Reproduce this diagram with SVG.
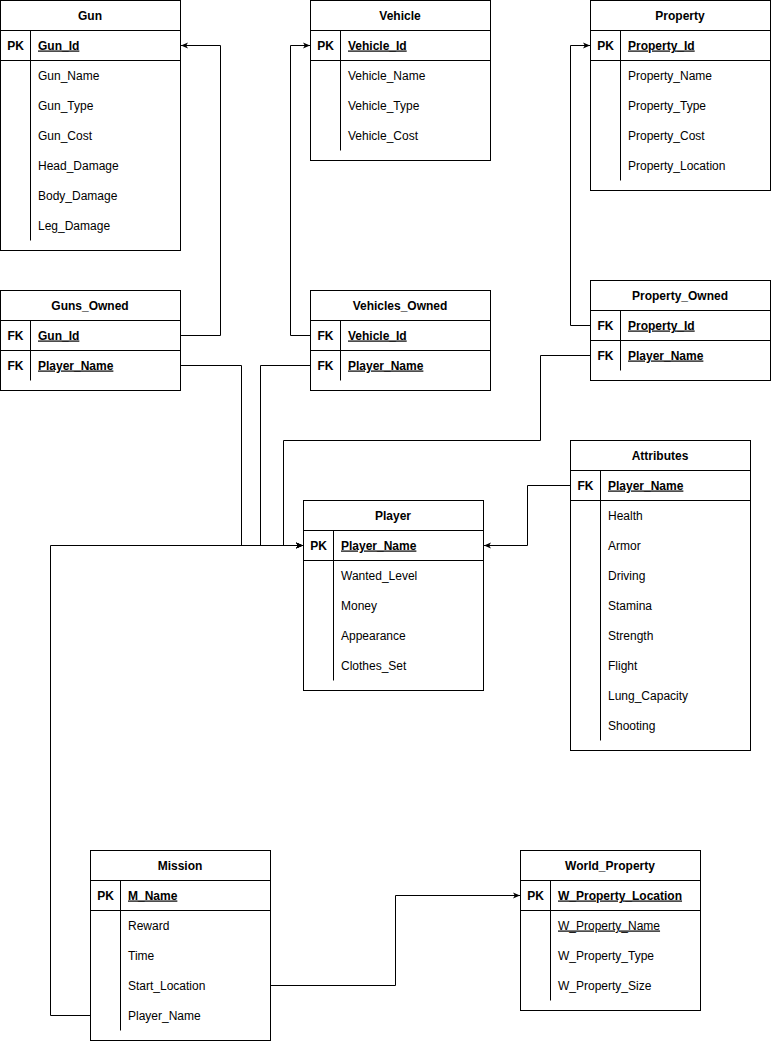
<svg xmlns="http://www.w3.org/2000/svg" width="772" height="1041" viewBox="0 0 772 1041">
<style>
.box{fill:#fff;stroke:#000;stroke-width:1}
.ln{stroke:#000;stroke-width:1;fill:none}
.h{font-family:"Liberation Sans",Arial,sans-serif;font-size:12px;font-weight:bold;text-anchor:middle}
.k{font-family:"Liberation Sans",Arial,sans-serif;font-size:12px;font-weight:bold;text-anchor:middle}
.f{font-family:"Liberation Sans",Arial,sans-serif;font-size:12px}
.pk{font-family:"Liberation Sans",Arial,sans-serif;font-size:12px;font-weight:bold;text-decoration:underline}
.u{text-decoration:underline}
.c{stroke:#000;stroke-width:1;fill:none;marker-end:url(#arr)}
</style>
<defs>
<marker id="arr" viewBox="0 0 10 10" refX="9" refY="5" markerWidth="8" markerHeight="8" markerUnits="userSpaceOnUse" orient="auto">
<path d="M0,1 L9,5 L0,9 L2.5,5 Z" fill="#000"/>
</marker>
</defs>
<rect width="772" height="1041" fill="#fff"/>

<g id="connectors">
<path class="c" d="M180.5,335.5 H220.5 V45.5 H181"/>
<path class="c" d="M310.5,335.5 H290.5 V45.5 H310"/>
<path class="c" d="M590.5,325.5 H570.5 V45.5 H590"/>
<path class="c" d="M180.5,365.5 H241.5 V545.5 H303"/>
<path class="c" d="M310.5,365.5 H260.5 V545.5 H303"/>
<path class="c" d="M590.5,355.5 H540.5 V440.5 H283.5 V545.5 H303"/>
<path class="c" d="M570.5,485.5 H527.5 V545.5 H484"/>
<path class="c" d="M90.5,1015.5 H50.5 V545.5 H303"/>
<path class="c" d="M270.5,985.5 H395.5 V895.5 H520"/>
</g>

<g id="gun">
<rect class="box" x="0.5" y="0.5" width="180" height="250"/>
<path class="ln" d="M0.5,30.5 H180.5 M0.5,60.5 H180.5 M30.5,30.5 V60.5 M30.5,60.5 V240.5"/>
<text class="h" x="90" y="19.5">Gun</text>
<text class="k" x="15.5" y="49.5">PK</text>
<text class="pk" x="38" y="49.5">Gun_Id</text>
<text class="f" x="38" y="79.5">Gun_Name</text>
<text class="f" x="38" y="109.5">Gun_Type</text>
<text class="f" x="38" y="139.5">Gun_Cost</text>
<text class="f" x="38" y="169.5">Head_Damage</text>
<text class="f" x="38" y="199.5">Body_Damage</text>
<text class="f" x="38" y="229.5">Leg_Damage</text>
</g>

<g id="vehicle">
<rect class="box" x="310.5" y="0.5" width="180" height="160"/>
<path class="ln" d="M310.5,30.5 H490.5 M310.5,60.5 H490.5 M340.5,30.5 V60.5 M340.5,60.5 V150.5"/>
<text class="h" x="400" y="19.5">Vehicle</text>
<text class="k" x="325.5" y="49.5">PK</text>
<text class="pk" x="348" y="49.5">Vehicle_Id</text>
<text class="f" x="348" y="79.5">Vehicle_Name</text>
<text class="f" x="348" y="109.5">Vehicle_Type</text>
<text class="f" x="348" y="139.5">Vehicle_Cost</text>
</g>

<g id="property">
<rect class="box" x="590.5" y="0.5" width="180" height="190"/>
<path class="ln" d="M590.5,30.5 H770.5 M590.5,60.5 H770.5 M620.5,30.5 V60.5 M620.5,60.5 V180.5"/>
<text class="h" x="680" y="19.5">Property</text>
<text class="k" x="605.5" y="49.5">PK</text>
<text class="pk" x="628" y="49.5">Property_Id</text>
<text class="f" x="628" y="79.5">Property_Name</text>
<text class="f" x="628" y="109.5">Property_Type</text>
<text class="f" x="628" y="139.5">Property_Cost</text>
<text class="f" x="628" y="169.5">Property_Location</text>
</g>

<g id="guns_owned">
<rect class="box" x="0.5" y="290.5" width="180" height="100"/>
<path class="ln" d="M0.5,320.5 H180.5 M0.5,350.5 H180.5 M30.5,320.5 V380.5"/>
<text class="h" x="90" y="309.5">Guns_Owned</text>
<text class="k" x="15.5" y="339.5">FK</text>
<text class="pk" x="38" y="339.5">Gun_Id</text>
<text class="k" x="15.5" y="369.5">FK</text>
<text class="pk" x="38" y="369.5">Player_Name</text>
</g>

<g id="vehicles_owned">
<rect class="box" x="310.5" y="290.5" width="180" height="100"/>
<path class="ln" d="M310.5,320.5 H490.5 M310.5,350.5 H490.5 M340.5,320.5 V380.5"/>
<text class="h" x="400" y="309.5">Vehicles_Owned</text>
<text class="k" x="325.5" y="339.5">FK</text>
<text class="pk" x="348" y="339.5">Vehicle_Id</text>
<text class="k" x="325.5" y="369.5">FK</text>
<text class="pk" x="348" y="369.5">Player_Name</text>
</g>

<g id="property_owned">
<rect class="box" x="590.5" y="280.5" width="180" height="100"/>
<path class="ln" d="M590.5,310.5 H770.5 M590.5,340.5 H770.5 M620.5,310.5 V370.5"/>
<text class="h" x="680" y="299.5">Property_Owned</text>
<text class="k" x="605.5" y="329.5">FK</text>
<text class="pk" x="628" y="329.5">Property_Id</text>
<text class="k" x="605.5" y="359.5">FK</text>
<text class="pk" x="628" y="359.5">Player_Name</text>
</g>

<g id="attributes">
<rect class="box" x="570.5" y="440.5" width="180" height="310"/>
<path class="ln" d="M570.5,470.5 H750.5 M570.5,500.5 H750.5 M600.5,470.5 V500.5 M600.5,500.5 V740.5"/>
<text class="h" x="660" y="459.5">Attributes</text>
<text class="k" x="585.5" y="489.5">FK</text>
<text class="pk" x="608" y="489.5">Player_Name</text>
<text class="f" x="608" y="519.5">Health</text>
<text class="f" x="608" y="549.5">Armor</text>
<text class="f" x="608" y="579.5">Driving</text>
<text class="f" x="608" y="609.5">Stamina</text>
<text class="f" x="608" y="639.5">Strength</text>
<text class="f" x="608" y="669.5">Flight</text>
<text class="f" x="608" y="699.5">Lung_Capacity</text>
<text class="f" x="608" y="729.5">Shooting</text>
</g>

<g id="player">
<rect class="box" x="303.5" y="500.5" width="180" height="190"/>
<path class="ln" d="M303.5,530.5 H483.5 M303.5,560.5 H483.5 M333.5,530.5 V560.5 M333.5,560.5 V680.5"/>
<text class="h" x="393" y="519.5">Player</text>
<text class="k" x="318.5" y="549.5">PK</text>
<text class="pk" x="341" y="549.5">Player_Name</text>
<text class="f" x="341" y="579.5">Wanted_Level</text>
<text class="f" x="341" y="609.5">Money</text>
<text class="f" x="341" y="639.5">Appearance</text>
<text class="f" x="341" y="669.5">Clothes_Set</text>
</g>

<g id="mission">
<rect class="box" x="90.5" y="850.5" width="180" height="190"/>
<path class="ln" d="M90.5,880.5 H270.5 M90.5,910.5 H270.5 M120.5,880.5 V910.5 M120.5,910.5 V1030.5"/>
<text class="h" x="180" y="869.5">Mission</text>
<text class="k" x="105.5" y="899.5">PK</text>
<text class="pk" x="128" y="899.5">M_Name</text>
<text class="f" x="128" y="929.5">Reward</text>
<text class="f" x="128" y="959.5">Time</text>
<text class="f" x="128" y="989.5">Start_Location</text>
<text class="f" x="128" y="1019.5">Player_Name</text>
</g>

<g id="world_property">
<rect class="box" x="520.5" y="850.5" width="180" height="160"/>
<path class="ln" d="M520.5,880.5 H700.5 M520.5,910.5 H700.5 M550.5,880.5 V910.5 M550.5,910.5 V1000.5"/>
<text class="h" x="610" y="869.5">World_Property</text>
<text class="k" x="535.5" y="899.5">PK</text>
<text class="pk" x="558" y="899.5">W_Property_Location</text>
<text class="f u" x="558" y="929.5">W_Property_Name</text>
<text class="f" x="558" y="959.5">W_Property_Type</text>
<text class="f" x="558" y="989.5">W_Property_Size</text>
</g>
</svg>
